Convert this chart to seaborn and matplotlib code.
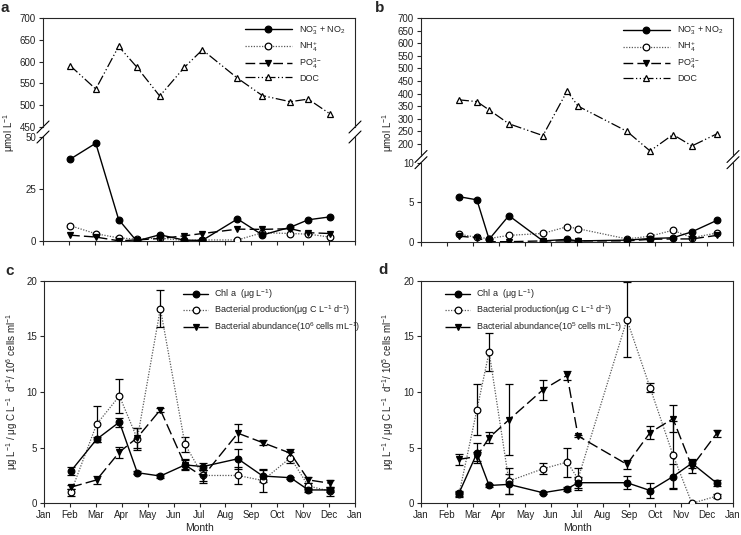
import numpy as np
import pandas as pd
import matplotlib
matplotlib.use("Agg")
import matplotlib.pyplot as plt
from matplotlib.lines import Line2D
import seaborn as sns

# ---------------- data ----------------
# sampling dates as month position (0 = 1 Jan, 12 = 1 Jan next year)
dates_a = [1.04, 2.03, 2.91, 3.6, 4.49, 5.44, 6.13, 7.48, 8.44, 9.51, 10.2, 11.04]
dates_b = [1.46, 2.15, 2.62, 3.38, 4.69, 5.62, 6.04, 7.92, 8.81, 9.69, 10.42, 11.38]

# panel a
a_no3 = [39.3, 47.0, 10.3, 0.0, 3.0, 0.4, 0.3, 10.6, 2.9, 6.6, 10.2, 11.6]
a_nh4 = [7.4, 3.5, 1.5, 0.9, 1.4, 0.2, 0.5, 0.5, 4.0, 3.6, 3.3, 1.9]
a_po4 = [2.8, 1.9, 0.1, 0.5, 1.2, 2.5, 3.6, 5.7, 5.6, 5.9, 4.0, 3.6]
a_doc = [591, 537, 635, 588, 521, 587, 627, 562, 522, 508, 514, 480]

# panel b
b_no3 = [5.7, 5.3, 0.3, 3.3, 0.1, 0.3, 0.1, 0.2, 0.4, 0.5, 1.25, 2.7]
b_nh4 = [0.95, 0.55, 0.4, 0.8, 1.05, 1.9, 1.65, 0.35, 0.7, 1.45, 0.5, 1.1]
b_po4 = [0.7, 0.5, 0.0, 0.0, 0.1, 0.1, 0.1, 0.1, 0.3, 0.35, 0.35, 0.8]
b_doc = [375, 368, 335, 280, 233, 410, 350, 250, 172, 237, 192, 240]

# panel c
c_chl = [2.9, 5.75, 7.3, 2.75, 2.45, 3.45, 3.3, 4.0, 2.45, 2.3, 1.2, 1.2]
c_chl_err = [0.35, 0.25, 0.4, 0.15, 0.15, 0.5, 0.3, 0.9, 0.5, 0.1, 0.15, 0.15]
c_bp = [1.0, 7.1, 9.65, 5.8, 17.5, 5.3, 2.5, 2.5, 2.05, 4.1, 1.55, 1.1]
c_bp_err = [0.3, 1.6, 1.5, 1.0, 1.7, 0.7, 0.5, 0.75, 1.0, 0.5, 0.3, 0.4]
c_ba = [1.45, 2.1, 4.6, 5.9, 8.4, 3.45, 2.4, 6.3, 5.45, 4.5, 2.1, 1.8]
c_ba_err = [0.2, 0.35, 0.5, 0.9, 0.2, 0.4, 0.6, 0.8, 0.2, 0.4, 0.3, 0.3]

# panel d
d_chl = [0.9, 4.5, 1.6, 1.7, 0.95, 1.3, 1.85, 1.85, 1.15, 2.4, 3.6, 1.8]
d_chl_err = [0.2, 0.9, 0.15, 0.9, 0.1, 0.15, 0.5, 0.6, 0.7, 1.1, 0.4, 0.25]
d_bp = [0.8, 8.4, 13.6, 2.0, 3.1, 3.7, 2.2, 16.5, 10.4, 4.35, 0.0, 0.65]
d_bp_err = [0.2, 2.3, 1.7, 1.2, 0.5, 1.3, 1.0, 3.4, 0.4, 3.0, 0.0, 0.2]
d_ba = [3.95, 4.2, 5.9, 7.5, 10.2, 11.5, 6.05, 3.5, 6.35, 7.6, 3.3, 6.3]
d_ba_err = [0.5, 0.4, 0.5, 3.2, 0.9, 0.4, 0.1, 0.4, 0.6, 1.2, 0.6, 0.3]

month_labels = ["Jan", "Feb", "Mar", "Apr", "May", "Jun", "Jul", "Aug",
                "Sep", "Oct", "Nov", "Dec", "Jan"]

# ---------------- style ----------------
sns.set_style("ticks")
plt.rcParams["font.family"] = ["Liberation Sans", "DejaVu Sans"]
plt.rcParams["mathtext.default"] = "regular"
plt.rcParams["axes.linewidth"] = 0.8
plt.rcParams["xtick.major.width"] = 0.8
plt.rcParams["ytick.major.width"] = 0.8
plt.rcParams["xtick.major.size"] = 3
plt.rcParams["ytick.major.size"] = 3
FS = 7
TXT = "#222222"

fig = plt.figure(figsize=(7.41, 5.35), dpi=100)


def ax_at(l, t, r, b):
    return fig.add_axes([l / 741, 1 - b / 535, (r - l) / 741, (b - t) / 535])


STY = {
    "no3": dict(linestyle="-", marker="o", mfc="black", mec="black", color="black", lw=1.0),
    "nh4": dict(linestyle=(0, (1, 1.2)), marker="o", mfc="white", mec="black", color="0.35", lw=0.9),
    "po4": dict(linestyle=(0, (7, 3)), marker="v", mfc="black", mec="black", color="black", lw=1.0),
    "doc": dict(linestyle=(0, (8, 2, 1, 2, 1, 2)), marker="^", mfc="white", mec="black", color="black", lw=0.9),
    "chl": dict(linestyle="-", marker="o", mfc="black", mec="black", color="black", lw=1.0),
    "bp": dict(linestyle=(0, (1, 1.2)), marker="o", mfc="white", mec="black", color="0.35", lw=0.9),
    "ba": dict(linestyle=(0, (8, 3)), marker="v", mfc="black", mec="black", color="black", lw=1.0),
}
MS = 4.8


def draw(ax, x, y, key, err=None, ms=MS):
    s = STY[key]
    df = pd.DataFrame({"x": x, "y": y})
    if err is not None:
        ax.errorbar(x, y, yerr=err, fmt="none", ecolor="black", elinewidth=0.9,
                    capsize=3, capthick=0.9, zorder=2)
    sns.lineplot(data=df, x="x", y="y", ax=ax, color=s["color"], linestyle=s["linestyle"],
                 lw=s["lw"], marker=s["marker"], markersize=ms, markerfacecolor=s["mfc"],
                 markeredgecolor=s["mec"], markeredgewidth=0.9, zorder=3, legend=False)
    ax.set_xlabel("")
    ax.set_ylabel("")


def handle(key, ms=MS):
    s = STY[key]
    return Line2D([], [], color=s["color"], linestyle=s["linestyle"], lw=s["lw"],
                  marker=s["marker"], markersize=ms, markerfacecolor=s["mfc"],
                  markeredgecolor=s["mec"], markeredgewidth=0.9)


def style_ticks(ax):
    ax.tick_params(labelsize=FS, direction="out", pad=2, labelcolor=TXT)


def broken_pair(up, lo, upper_lim, upper_ticks, lower_lim, lower_ticks):
    for ax in (up, lo):
        ax.set_xlim(0, 12)
        style_ticks(ax)
    up.set_ylim(*upper_lim)
    up.set_yticks(upper_ticks)
    lo.set_ylim(*lower_lim)
    lo.set_yticks(lower_ticks)
    up.spines["bottom"].set_visible(False)
    lo.spines["top"].set_visible(False)
    up.set_xticks([])
    lo.set_xticks(range(13))
    lo.set_xticklabels([])
    up.spines["right"].set_visible(True)
    up.spines["top"].set_visible(True)
    lo.spines["right"].set_visible(True)
    # break marks
    for ax, yv in ((up, 0), (lo, 1)):
        bb = ax.get_position()
        dx = 6 / 741 / bb.width
        dy = 6 / 535 / bb.height
        for xv in (0, 1):
            ax.plot([xv - dx, xv + dx], [yv - dy, yv + dy], transform=ax.transAxes,
                    color="black", lw=0.8, clip_on=False)


legend_labels_ab = [r"NO$_3^{-}$ + NO$_2$", r"NH$_4^{+}$", r"PO$_4^{3-}$", "DOC"]

# ---------------- panel a ----------------
a_up = ax_at(43, 18, 355, 127)
a_lo = ax_at(43, 137, 355, 241)
draw(a_up, dates_a, a_doc, "doc", ms=4.5)
draw(a_lo, dates_a, a_nh4, "nh4")
draw(a_lo, dates_a, a_po4, "po4")
draw(a_lo, dates_a, a_no3, "no3")
broken_pair(a_up, a_lo, (450, 700), range(450, 701, 50), (0, 50), [0, 25, 50])
a_up.legend([handle(k) for k in ("no3", "nh4", "po4", "doc")], legend_labels_ab,
            loc="upper left", bbox_to_anchor=(0.63, 0.99), frameon=False, fontsize=6.5,
            handlelength=5.2, labelspacing=0.3, handletextpad=0.8, borderaxespad=0.2,
            labelcolor=TXT)

# ---------------- panel b ----------------
b_up = ax_at(421, 18, 733, 156.5)
b_lo = ax_at(421, 162.7, 733, 241.7)
draw(b_up, dates_b, b_doc, "doc", ms=4.5)
draw(b_lo, dates_b, b_nh4, "nh4")
draw(b_lo, dates_b, b_po4, "po4")
draw(b_lo, dates_b, b_no3, "no3")
broken_pair(b_up, b_lo, (150, 700), range(200, 701, 50), (0, 10), [0, 5, 10])
b_up.legend([handle(k) for k in ("no3", "nh4", "po4", "doc")], legend_labels_ab,
            loc="upper left", bbox_to_anchor=(0.63, 0.99), frameon=False, fontsize=6.5,
            handlelength=5.2, labelspacing=0.3, handletextpad=0.8, borderaxespad=0.2,
            labelcolor=TXT)

# ---------------- panels c, d ----------------
c_ax = ax_at(44, 280.7, 355, 503.3)
d_ax = ax_at(421, 280.7, 733, 503.3)

draw(c_ax, dates_a, c_bp, "bp", c_bp_err)
draw(c_ax, dates_a, c_ba, "ba", c_ba_err)
draw(c_ax, dates_a, c_chl, "chl", c_chl_err)
draw(d_ax, dates_b, d_bp, "bp", d_bp_err)
draw(d_ax, dates_b, d_ba, "ba", d_ba_err)
draw(d_ax, dates_b, d_chl, "chl", d_chl_err)

for ax in (c_ax, d_ax):
    ax.set_xlim(0, 12)
    ax.set_ylim(0, 20)
    ax.set_yticks([0, 5, 10, 15, 20])
    ax.set_xticks(range(13))
    ax.set_xticklabels(month_labels)
    style_ticks(ax)
    ax.spines["right"].set_visible(True)
    ax.spines["top"].set_visible(True)
    ax.set_xlabel("Month", fontsize=FS + 0.5, labelpad=2, color=TXT)

c_labels = [r"Chl a  (μg L$^{-1}$)", r"Bacterial production(μg C L$^{-1}$ d$^{-1}$)",
            r"Bacterial abundance(10$^{6}$ cells mL$^{-1}$)"]
d_labels = [r"Chl a  (μg L$^{-1}$)", r"Bacterial production(μg C L$^{-1}$ d$^{-1}$)",
            r"Bacterial abundance(10$^{5}$ cells mL$^{-1}$)"]
c_ax.legend([handle(k) for k in ("chl", "bp", "ba")], c_labels, loc="upper left",
            bbox_to_anchor=(0.43, 0.995), frameon=False, fontsize=6.5, handlelength=2.8,
            labelspacing=0.3, handletextpad=0.6, borderaxespad=0.2, labelcolor=TXT)
d_ax.legend([handle(k) for k in ("chl", "bp", "ba")], d_labels, loc="upper left",
            bbox_to_anchor=(0.06, 0.995), frameon=False, fontsize=6.5, handlelength=2.8,
            labelspacing=0.3, handletextpad=0.6, borderaxespad=0.2, labelcolor=TXT)

# ---------------- labels ----------------
fig.text(9 / 741, 1 - 132 / 535, r"μmol L$^{-1}$", rotation=90, ha="center", va="center",
         fontsize=FS, color=TXT)
fig.text(388 / 741, 1 - 132 / 535, r"μmol L$^{-1}$", rotation=90, ha="center", va="center",
         fontsize=FS, color=TXT)
fig.text(12 / 741, 1 - 392 / 535, r"μg L$^{-1}$ / μg C L$^{-1}$  d$^{-1}$/ 10$^{6}$ cells ml$^{-1}$",
         rotation=90, ha="center", va="center", fontsize=FS, color=TXT)
fig.text(388 / 741, 1 - 392 / 535, r"μg L$^{-1}$ / μg C L$^{-1}$  d$^{-1}$/ 10$^{5}$ cells ml$^{-1}$",
         rotation=90, ha="center", va="center", fontsize=FS, color=TXT)

for lab, x, y in (("a", 5, 8), ("b", 380, 8), ("c", 10, 271), ("d", 383, 270)):
    fig.text(x / 741, 1 - y / 535, lab, fontsize=11, fontweight="bold", ha="center", va="center")

fig.savefig("out.png", dpi=100)
